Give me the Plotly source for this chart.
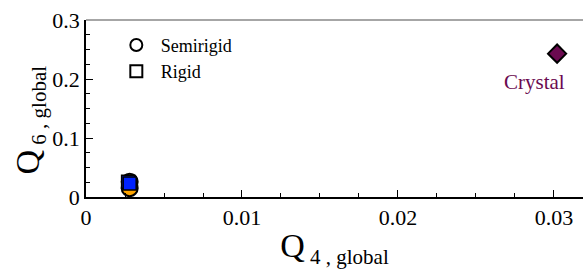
import plotly.graph_objects as go

# Data
semirigid_q4 = [0.0028, 0.0028]
semirigid_q6 = [0.026, 0.015]
rigid_q4 = [0.0027, 0.0028]
rigid_q6 = [0.026, 0.023]
crystal_q4 = [0.0302]
crystal_q6 = [0.243]
x_ticks = [0, 0.01, 0.02, 0.03]
x_labels = ["0", "0.01", "0.02", "0.03"]
y_ticks = [0, 0.1, 0.2, 0.3]
y_labels = ["0", "0.1", "0.2", "0.3"]

FONT = "Liberation Serif"
CRYSTAL = "#6B0A50"

fig = go.Figure()
# legend dummies (open markers)
fig.add_trace(go.Scatter(x=[None], y=[None], mode="markers", name="&nbsp;Semirigid",
                         marker=dict(symbol="circle-open", size=13, color="black", line=dict(width=2))))
fig.add_trace(go.Scatter(x=[None], y=[None], mode="markers", name="&nbsp;Rigid",
                         marker=dict(symbol="square-open", size=12, color="black", line=dict(width=2))))
# data
fig.add_trace(go.Scatter(x=semirigid_q4, y=semirigid_q6, mode="markers", showlegend=False,
                         marker=dict(symbol="circle", size=16, color="#FFA500", line=dict(color="black", width=2))))
fig.add_trace(go.Scatter(x=rigid_q4, y=rigid_q6, mode="markers", showlegend=False,
                         marker=dict(symbol="square", size=13, color="#0022FF", line=dict(color="black", width=1.5))))
fig.add_trace(go.Scatter(x=crystal_q4, y=crystal_q6, mode="markers", showlegend=False,
                         marker=dict(symbol="diamond", size=14, color=CRYSTAL, line=dict(color="black", width=2))))

fig.add_annotation(x=crystal_q4[0], y=crystal_q6[0], xref="x", yref="y", text="Crystal",
                   showarrow=False, yshift=-28, xshift=-23,
                   font=dict(family=FONT, size=21, color=CRYSTAL))

# y axis title as rotated annotation
fig.add_annotation(x=0, y=0.5, xref="paper", yref="paper", xanchor="center", yanchor="middle",
                   xshift=-57, yshift=-12, textangle=-90, showarrow=False,
                   text="Q<sub><span style='font-size:21px'> 6 , global</span></sub>",
                   font=dict(family=FONT, size=34, color="black"))

# top border line (gray)
fig.add_shape(type="line", xref="paper", yref="paper", x0=0, x1=1, y0=1, y1=1,
              line=dict(color="#888888", width=1.5))

fig.update_layout(
    width=583, height=269,
    margin=dict(l=86, r=0, t=20, b=72),
    plot_bgcolor="white", paper_bgcolor="white",
    font=dict(family=FONT, size=22, color="black"),
    legend=dict(x=0.061, y=0.962, xanchor="left", yanchor="top", bgcolor="rgba(0,0,0,0)",
                font=dict(family=FONT, size=18, color="black"), itemsizing="constant", tracegroupgap=0),
    xaxis=dict(range=[0, 0.03186], tickvals=x_ticks, ticktext=x_labels, showgrid=False, zeroline=False,
               showline=True, linecolor="black", linewidth=1.5, ticks="inside", ticklen=7, tickcolor="black",
               tickfont=dict(family=FONT, size=22), automargin=False,
               minor=dict(dtick=0.0025, ticks="inside", ticklen=4, tickcolor="black"),
               title=dict(text="Q<sub><span style='font-size:21px'> 4 , global</span></sub>",
                          font=dict(family=FONT, size=34), standoff=4)),
    yaxis=dict(range=[-0.0, 0.3], tickvals=y_ticks, ticktext=y_labels, showgrid=False, zeroline=False,
               showline=True, linecolor="black", linewidth=1.5, ticks="inside", ticklen=7, tickcolor="black",
               tickfont=dict(family=FONT, size=22), automargin=False,
               minor=dict(dtick=0.025, ticks="inside", ticklen=4, tickcolor="black")),
)

fig.write_html("out.html", config={"displayModeBar": False},
               post_script="document.body.style.margin='0';document.body.style.overflow='hidden';")
